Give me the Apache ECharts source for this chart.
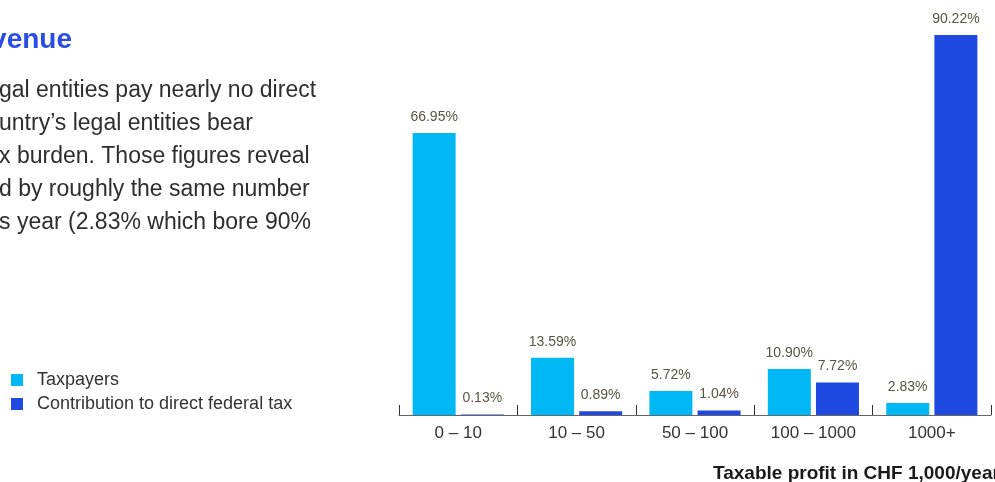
<!DOCTYPE html>
<html>
<head>
<meta charset="utf-8">
<script src="https://cdn.jsdelivr.net/npm/echarts@6/dist/echarts.min.js"></script>
<style>
html,body{margin:0;padding:0;background:#fff;}
#chart{width:995px;height:482px;}
</style>
</head>
<body>
<div id="chart"></div>
<script>
const categories = ['0 – 10', '10 – 50', '50 – 100', '100 – 1000', '1000+'];
const taxpayers = [66.95, 13.59, 5.72, 10.90, 2.83];
const contribution = [0.13, 0.89, 1.04, 7.72, 90.22];
const seriesNames = ['Taxpayers', 'Contribution to direct federal tax'];
const titleText = 'venue';
const paragraphLines = [
  'gal entities pay nearly no direct',
  'untry\u2019s legal entities bear',
  'x burden. Those figures reveal',
  'd by roughly the same number',
  's year (2.83% which bore 90%'
];
const axisName = 'Taxable profit in CHF 1,000/year';

const FONT = '"Liberation Sans", Arial, sans-serif';
const LIGHT = '#00b8f4';
const DARK = '#1f49e0';
const chart = echarts.init(document.getElementById('chart'));

const graphics = [
  { type: 'text', x: 72, y: 40,
    style: { text: titleText, fill: '#2a4de4', font: 'bold 28px ' + FONT, textAlign: 'right', textVerticalAlign: 'middle' } },
  { type: 'text', x: 713, y: 474,
    style: { text: axisName, fill: '#1a1a1a', font: 'bold 19px ' + FONT, textAlign: 'left', textVerticalAlign: 'middle' } }
];
const lineY = [91, 124, 157, 190, 223];
paragraphLines.forEach((t, i) => {
  graphics.push({ type: 'text', x: -1, y: lineY[i],
    style: { text: t, fill: '#2e2e2e', font: '23px ' + FONT, textAlign: 'left', textVerticalAlign: 'middle' } });
});

const labelCfg = {
  show: true, position: 'top', distance: 9,
  color: '#5b5346', fontSize: 14, fontFamily: FONT,
  formatter: p => p.value.toFixed(2) + '%'
};

chart.setOption({
  animation: false,
  backgroundColor: '#fff',
  legend: {
    orient: 'vertical', left: 6, top: 366, itemGap: 6,
    itemWidth: 12, itemHeight: 12, icon: 'rect',
    data: seriesNames,
    textStyle: { fontSize: 18, color: '#333', fontFamily: FONT, padding: [0, 0, 0, 9] }
  },
  grid: { left: 399, right: 4, top: 35, bottom: 67 },
  xAxis: {
    type: 'category', data: categories,
    axisLine: { lineStyle: { color: '#666', width: 1 } },
    axisTick: { show: true, inside: true, length: 10, lineStyle: { color: '#333' } },
    axisLabel: { fontSize: 17, color: '#333', fontFamily: FONT, margin: 10 }
  },
  yAxis: {
    type: 'value', min: 0, max: Math.max(...taxpayers, ...contribution),
    show: false, splitLine: { show: false }
  },
  series: [
    { name: seriesNames[0], type: 'bar', data: taxpayers, barWidth: 43, barGap: '12%',
      itemStyle: { color: LIGHT }, label: labelCfg },
    { name: seriesNames[1], type: 'bar', data: contribution, barWidth: 43,
      itemStyle: { color: DARK }, label: labelCfg }
  ],
  graphic: graphics
});
</script>
</body>
</html>
